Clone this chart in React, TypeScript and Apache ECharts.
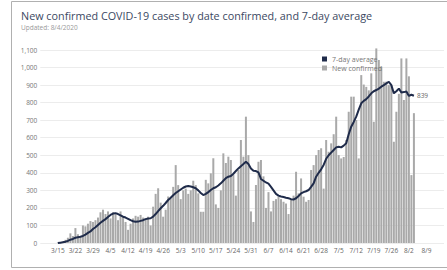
import React, { useEffect, useRef } from "react";
import * as echarts from "echarts";

const titleText = "New confirmed COVID-19 cases by date confirmed, and 7-day average";
const subtitleText = "Updated: 8/4/2020";

// Tick labels, one per week starting 3/15 (day 0)
const tickLabels = [
  "3/15", "3/22", "3/29", "4/5", "4/12", "4/19", "4/26", "5/3", "5/10", "5/17", "5/24",
  "5/31", "6/7", "6/14", "6/21", "6/28", "7/5", "7/12", "7/19", "7/26", "8/2", "8/9",
];

const yTicks = [0, 100, 200, 300, 400, 500, 600, 700, 800, 900, 1000, 1100];

// Daily new confirmed cases, 3/15 .. 8/4
const newConfirmed = [
  2, 5, 10, 18, 30, 55, 40,
  85, 50, 35, 100, 95, 110, 125,
  120, 130, 145, 175, 190, 165, 180,
  140, 175, 165, 130, 180, 150, 120,
  75, 110, 140, 155, 150, 160, 145,
  140, 150, 100, 207, 280, 312, 230,
  150, 190, 265, 255, 320, 444, 330,
  250, 300, 310, 280, 300, 355, 330,
  283, 178, 178, 360, 340, 397, 483,
  220, 200, 300, 511, 456, 492, 473,
  390, 270, 416, 587, 492, 720, 501,
  180, 120, 330, 463, 473, 380, 200,
  290, 180, 240, 250, 265, 250, 235,
  225, 165, 250, 270, 406, 283, 368,
  264, 235, 245, 416, 444, 501, 530,
  540, 310, 587, 520, 568, 620, 720,
  501, 482, 490, 587, 748, 834, 834,
  701, 482, 957, 903, 890, 870, 967,
  691, 1109, 1043, 1005, 919, 920, 900,
  900, 577, 748, 850, 1052, 815, 1052,
  950, 387, 740,
];

// 7-day average
const sevenDayAvg = [
  0, 2, 4, 7, 12, 19, 23,
  30, 33, 36, 40, 48, 58, 66,
  80, 90, 103, 115, 126, 136, 148,
  160, 168, 170, 165, 158, 150, 145,
  138, 130, 124, 121, 122, 126, 130,
  136, 140, 141, 150, 165, 182, 198,
  212, 228, 245, 258, 272, 285, 295,
  305, 315, 322, 325, 322, 318, 312,
  300, 285, 273, 280, 290, 302, 312,
  318, 328, 340, 355, 370, 378, 382,
  395, 410, 425, 438, 450, 463, 450,
  425, 412, 410, 402, 365, 355, 345,
  338, 320, 300, 280, 270, 265, 262,
  258, 255, 250, 248, 255, 268, 283,
  290, 295, 302, 320, 340, 378, 400,
  420, 445, 480, 500, 515, 530, 545,
  549, 545, 555, 568, 620, 663, 690,
  720, 760, 796, 810, 820, 835, 853,
  865, 872, 880, 891, 900, 910, 919,
  900, 853, 865, 880, 858, 860, 863,
  838, 845, 839,
];

const FONT = "'Segoe UI', 'Open Sans', 'Noto Sans', sans-serif";

export default function App() {
  const ref = useRef<HTMLDivElement>(null);

  useEffect(() => {
    if (!ref.current) return;
    const chart = echarts.init(ref.current, null, { renderer: "svg" });
    const barData = newConfirmed.map((v, i) => [i, v]);
    const lineData = sevenDayAvg.map((v, i) => [i, v]);

    chart.setOption({
      animation: false,
      backgroundColor: "#ffffff",
      textStyle: { fontFamily: FONT },
      graphic: [
        {
          type: "rect",
          silent: true,
          z: -10,
          shape: { x: 11.5, y: 1.5, width: 470, height: 266 },
          style: { fill: "none", stroke: "#b0b0b0", lineWidth: 1 },
        },
      ],
      title: {
        text: titleText,
        subtext: subtitleText,
        left: 21,
        top: 10,
        padding: 0,
        itemGap: 3,
        textStyle: { fontSize: 10.8, fontWeight: "normal", color: "#3b4862", fontFamily: FONT },
        subtextStyle: { fontSize: 6.5, color: "#999999", fontFamily: FONT },
      },
      legend: {
        data: ["7-day average", "New confirmed"],
        orient: "vertical",
        left: 322,
        top: 55.5,
        padding: 0,
        itemGap: 2,
        itemWidth: 5,
        itemHeight: 5,
        icon: "rect",
        textStyle: { fontSize: 7, color: "#777777", fontFamily: FONT },
      },
      grid: {
        left: 40.3,
        top: 50,
        width: 161 * 2.574,
        bottom: 27,
        containLabel: false,
      },
      xAxis: {
        type: "value",
        min: -7,
        max: 154,
        interval: 7,
        axisLine: { show: false },
        axisTick: { show: false },
        splitLine: { show: false },
        axisLabel: {
          fontSize: 6.5,
          color: "#666666",
          margin: 4,
          formatter: (v: number) => {
            const i = Math.round(v / 7);
            return v >= 0 && i < tickLabels.length ? tickLabels[i] : "";
          },
        },
      },
      yAxis: {
        type: "value",
        min: 0,
        max: 1100,
        interval: 100,
        axisLine: { show: false },
        axisTick: { show: false },
        splitLine: { lineStyle: { color: "#ececec", width: 1 } },
        axisLabel: {
          fontSize: 6.5,
          color: "#777777",
          margin: 3,
          formatter: (v: number) => (yTicks.includes(v) ? v.toLocaleString("en-US") : ""),
        },
      },
      series: [
        {
          name: "New confirmed",
          type: "bar",
          data: barData,
          barWidth: 2,
          clip: false,
          itemStyle: { color: "#a9a9a9" },
          z: 2,
        },
        {
          name: "7-day average",
          type: "line",
          data: lineData,
          showSymbol: false,
          symbol: "none",
          clip: false,
          lineStyle: { color: "#1f2b4a", width: 2 },
          itemStyle: { color: "#1f2b4a" },
          z: 3,
          endLabel: {
            show: true,
            formatter: (p: any) => String(p.value[1]),
            fontSize: 6.5,
            color: "#666666",
            distance: 3,
          },
        },
      ],
    });

    return () => chart.dispose();
  }, []);

  return (
    <div
      ref={ref}
      style={{ position: "absolute", left: 0, top: 0, width: 447, height: 270 }}
    />
  );
}
